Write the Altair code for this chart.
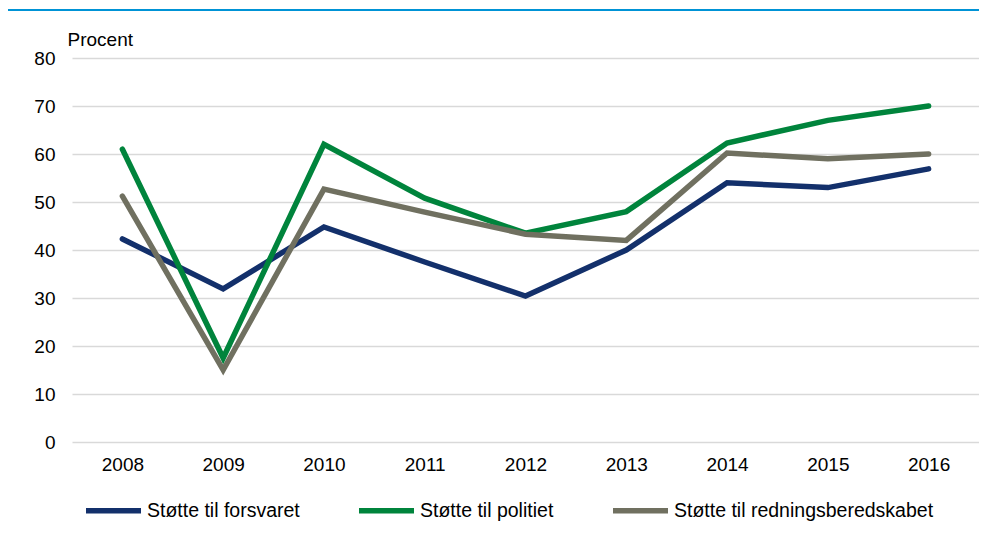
import altair as alt
import pandas as pd

years = ["2008", "2009", "2010", "2011", "2012", "2013", "2014", "2015", "2016"]
series_names = ["Støtte til forsvaret", "Støtte til politiet", "Støtte til redningsberedskabet"]
forsvaret = [42.3, 31.9, 44.8, 37.5, 30.4, 40.0, 54.0, 53.0, 56.9]
politiet = [61.0, 17.5, 62.0, 50.8, 43.5, 48.0, 62.3, 67.0, 70.0]
redning = [51.2, 15.0, 52.7, 47.9, 43.3, 42.0, 60.2, 59.0, 60.0]
colors = ["#13306B", "#00843C", "#707060"]

rows = []
for name, vals in zip(series_names, [forsvaret, politiet, redning]):
    for y, v in zip(years, vals):
        rows.append({"year": y, "series": name, "value": v})
df = pd.DataFrame(rows)

FONT = "Liberation Sans"

lines = alt.Chart(df).mark_line(strokeWidth=5.5, strokeCap="round").encode(
    x=alt.X("year:O", sort=years, title=None,
            axis=alt.Axis(labelAngle=0, domain=False, ticks=False, labelPadding=13,
                          labelFontSize=19, labelFont=FONT, labelColor="#000")),
    y=alt.Y("value:Q", scale=alt.Scale(domain=[0, 80], nice=False),
            axis=alt.Axis(values=[0, 10, 20, 30, 40, 50, 60, 70, 80], domain=False, ticks=False,
                          labelPadding=17, labelFontSize=19, labelFont=FONT, labelColor="#000",
                          grid=True, gridColor="#D9D9D9", gridWidth=1.5,
                          title="Procent", titleAngle=0, titleX=-5, titleY=-13,
                          titleAlign="left", titleBaseline="alphabetic", titleFontWeight="normal",
                          titleFontSize=19, titleFont=FONT, titleColor="#000")),
    color=alt.Color("series:N", scale=alt.Scale(domain=series_names, range=colors),
                    legend=alt.Legend(title=None, orient="none", direction="horizontal",
                                      legendX=11, legendY=422, symbolType="stroke",
                                      symbolSize=3025, symbolStrokeWidth=5.5, labelOffset=3,
                                      columnPadding=48, labelFontSize=19.5, labelFont=FONT,
                                      labelColor="#000", labelLimit=400)),
    order=alt.Order("series:N"),
)

topline = alt.Chart(pd.DataFrame({"a": [0]})).mark_rule(color="#0093D6", strokeWidth=2).encode(
    x=alt.value(-64), x2=alt.value(907), y=alt.value(-48)
)

chart = alt.layer(lines, topline).properties(
    width=907, height=384,
    padding={"left": 64, "top": 50, "right": 0, "bottom": 80},
    autosize=alt.AutoSizeParams(type="none"),
).configure_view(stroke=None)

chart.save("out.html", embed_options={"renderer": "svg", "actions": False})
